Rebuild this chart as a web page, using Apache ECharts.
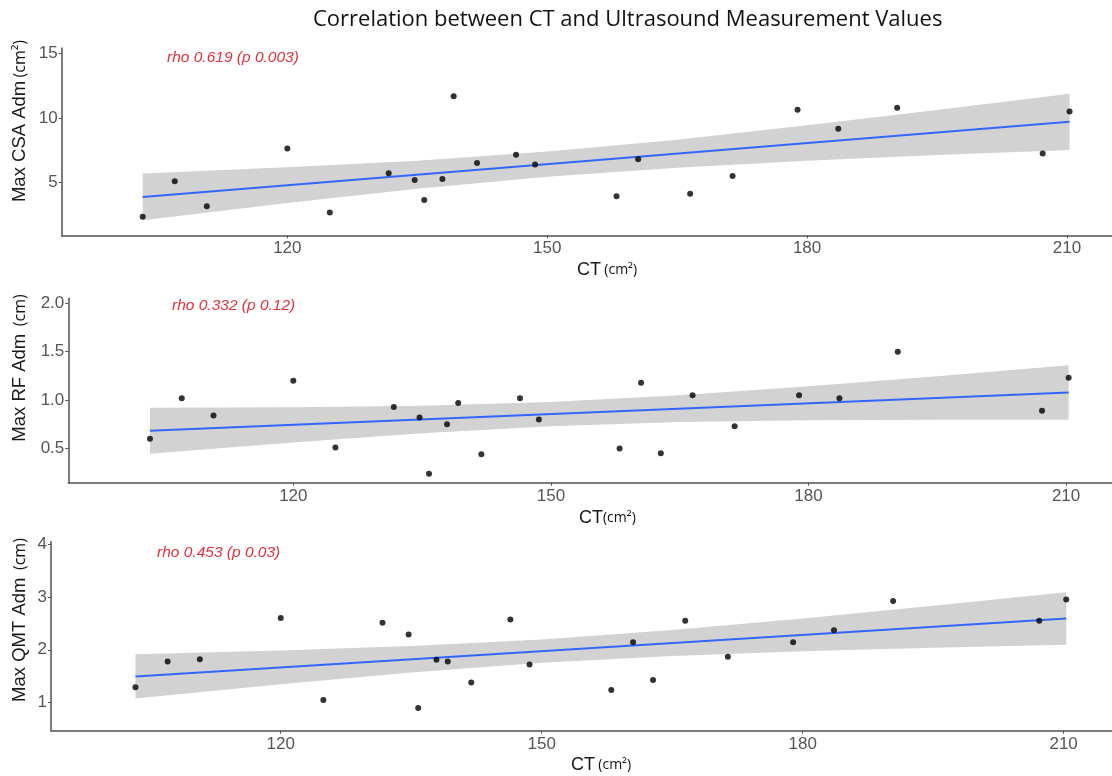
<!DOCTYPE html>
<html>
<head>
<meta charset="utf-8">
<script src="https://cdn.jsdelivr.net/npm/echarts@6/dist/echarts.min.js"></script>
<style>
html,body{margin:0;padding:0;background:#fff;}
#chart{width:1112px;height:776px;}
</style>
</head>
<body>
<div id="chart"></div>
<script>
// ---- Data ----
const ct = [103.3, 107.0, 110.7, 120.0, 124.9, 131.7, 134.7, 135.8, 137.9, 139.2, 141.9, 146.4, 148.6, 158.0, 160.5, 162.8, 166.5, 171.4, 178.9, 183.6, 190.4, 207.2, 210.3];
const csa = [2.36, 5.10, 3.17, 7.64, 2.70, 5.73, 5.21, 3.66, 5.29, 11.68, 6.52, 7.15, 6.41, 3.95, 6.81, null, 4.14, 5.52, 10.63, 9.16, 10.79, 7.25, 10.50];
const rf = [0.60, 1.02, 0.84, 1.20, 0.51, 0.93, 0.82, 0.24, 0.75, 0.97, 0.44, 1.02, 0.80, 0.50, 1.18, 0.45, 1.05, 0.73, 1.05, 1.02, 1.50, 0.89, 1.23];
const qmt = [1.29, 1.78, 1.82, 2.60, 1.05, 2.51, 2.29, 0.90, 1.81, 1.78, 1.38, 2.57, 1.72, 1.24, 2.14, 1.43, 2.55, 1.87, 2.14, 2.37, 2.92, 2.55, 2.95];

// regression line end points and confidence band
const fitX = [103.3, 210.3];
const csaFit = [3.90, 9.70];
const rfFit = [0.683, 1.079];
const qmtFit = [1.496, 2.592];
const bandX = [103.3, 120, 135, 150, 165, 180, 195, 210.3];
const csaUpper = [5.71, 6.19, 6.70, 7.40, 8.32, 9.43, 10.61, 11.88];
const csaLower = [2.09, 3.42, 4.52, 5.46, 6.16, 6.69, 7.13, 7.52];
const rfUpper = [0.921, 0.926, 0.942, 0.981, 1.051, 1.143, 1.248, 1.361];
const rfLower = [0.445, 0.563, 0.658, 0.731, 0.773, 0.791, 0.798, 0.797];
const qmtUpper = [1.915, 1.986, 2.071, 2.194, 2.372, 2.592, 2.832, 3.088];
const qmtLower = [1.077, 1.348, 1.571, 1.754, 1.884, 1.972, 2.038, 2.096];

// tick labels
const xTicks = [120, 150, 180, 210];
const csaTicks = [5, 10, 15];
const rfTicks = [0.5, 1.0, 1.5, 2.0];
const qmtTicks = [1, 2, 3, 4];

const titleText = 'Correlation between CT and Ultrasound Measurement Values';
const rhoTexts = ['rho 0.619 (p 0.003)', 'rho 0.332 (p 0.12)', 'rho 0.453 (p 0.03)'];
const yNames = ['Max CSA Adm', 'Max RF Adm', 'Max QMT Adm'];
const yUnits = ['(cm²)', ' (cm)', ' (cm)'];

// ---- Build ----
const chart = echarts.init(document.getElementById('chart'), null, {renderer: 'canvas'});

const panels = [
  {grid: {left: 61.7, top: 48, width: 1050.3, height: 187.3}, xMin: 93.95, xMax: 215.2, yMin: 0.93, yMax: 15.41,
   y: csa, fit: csaFit, up: csaUpper, lo: csaLower, ticks: csaTicks, fmt: v => String(v)},
  {grid: {left: 68.3, top: 298.3, width: 1043.7, height: 184.4}, xMin: 93.79, xMax: 215.35, yMin: 0.147, yMax: 2.052,
   y: rf, fit: rfFit, up: rfUpper, lo: rfLower, ticks: rfTicks, fmt: v => v.toFixed(1)},
  {grid: {left: 51, top: 541.7, width: 1061, height: 189}, xMin: 93.59, xMax: 215.56, yMin: 0.47, yMax: 4.043,
   y: qmt, fit: qmtFit, up: qmtUpper, lo: qmtLower, ticks: qmtTicks, fmt: v => String(v)}
];

const axisColor = '#505050';
const labelColor = '#555555';
const grids = [], xAxes = [], yAxes = [], series = [];

panels.forEach((p, i) => {
  grids.push(Object.assign({outerBoundsMode: 'none', containLabel: false}, p.grid));
  xAxes.push({
    type: 'value', gridIndex: i, min: p.xMin, max: p.xMax,
    axisLine: {show: true, onZero: false, lineStyle: {color: axisColor, width: 1.5}},
    axisTick: {show: true, length: 3, customValues: xTicks, lineStyle: {color: axisColor}},
    axisLabel: {customValues: xTicks, color: labelColor, fontSize: 17, fontFamily: 'Liberation Sans', margin: 5},
    splitLine: {show: false}
  });
  yAxes.push({
    type: 'value', gridIndex: i, min: p.yMin, max: p.yMax,
    axisLine: {show: true, onZero: false, lineStyle: {color: axisColor, width: 1.5}},
    axisTick: {show: true, length: 3, customValues: p.ticks, lineStyle: {color: axisColor}},
    axisLabel: {customValues: p.ticks, color: labelColor, fontSize: 17, fontFamily: 'Liberation Sans', margin: 4, formatter: p.fmt},
    splitLine: {show: false}
  });
  // confidence band
  const bandData = bandX.map((x, k) => [x, p.up[k], p.lo[k]]);
  series.push({
    type: 'custom', xAxisIndex: i, yAxisIndex: i, data: bandData, z: 1, silent: true,
    renderItem: function (params, api) {
      if (params.dataIndex !== 0) return null;
      const pts = [];
      bandData.forEach(d => pts.push(api.coord([d[0], d[1]])));
      for (let k = bandData.length - 1; k >= 0; k--) pts.push(api.coord([bandData[k][0], bandData[k][2]]));
      return {type: 'polygon', shape: {points: pts}, style: {fill: '#d2d2d2'}};
    }
  });
  // fit line
  series.push({
    type: 'line', xAxisIndex: i, yAxisIndex: i, z: 2, silent: true,
    data: fitX.map((x, k) => [x, p.fit[k]]),
    showSymbol: false, lineStyle: {color: '#3366ff', width: 2}
  });
  // points
  series.push({
    type: 'scatter', xAxisIndex: i, yAxisIndex: i, z: 3,
    data: ct.map((x, k) => [x, p.y[k]]).filter(d => d[1] !== null),
    symbolSize: 6, itemStyle: {color: '#000000'}
  });
});

const graphics = [];
const rhoPos = [[167, 58], [172, 306], [157, 553]];
rhoPos.forEach((pos, i) => {
  graphics.push({type: 'text', x: pos[0], y: pos[1], silent: true,
    style: {text: rhoTexts[i], fill: '#e0313a', fontSize: 15.5, fontStyle: 'italic', fontFamily: 'Liberation Sans', align: 'left', verticalAlign: 'middle'}});
});
const yTitlePos = [[20, 121], [20, 368], [20, 620]];
yTitlePos.forEach((pos, i) => {
  graphics.push({type: 'text', x: pos[0], y: pos[1], rotation: Math.PI / 2, silent: true,
    style: {text: '{a|' + yNames[i] + '} {b|' + yUnits[i] + '}', align: 'center', verticalAlign: 'middle',
      rich: {a: {fontSize: 18.5, fontFamily: 'Liberation Sans', fill: '#1a1a1a'}, b: {fontSize: 16, fontFamily: 'Open Sans', fill: '#111'}}}});
});
const xTitlePos = [[577, 270], [579, 518], [571, 765]];
xTitlePos.forEach((pos, i) => {
  graphics.push({type: 'text', x: pos[0], y: pos[1], silent: true,
    style: {text: '{a|CT}' + (i === 1 ? '' : ' ') + '{b|(cm²)}', align: 'left', verticalAlign: 'middle',
      rich: {a: {fontSize: 18, fontFamily: 'Liberation Sans', fill: '#1a1a1a'}, b: {fontSize: 14, fontFamily: 'Open Sans', fill: '#111'}}}});
});

chart.setOption({
  backgroundColor: '#ffffff',
  animation: false,
  title: {text: titleText, left: 308, top: 4,
    textStyle: {fontFamily: 'Open Sans', fontSize: 22, fontWeight: 'normal', color: '#111'}},
  grid: grids, xAxis: xAxes, yAxis: yAxes, series: series, graphic: graphics
});
</script>
</body>
</html>
